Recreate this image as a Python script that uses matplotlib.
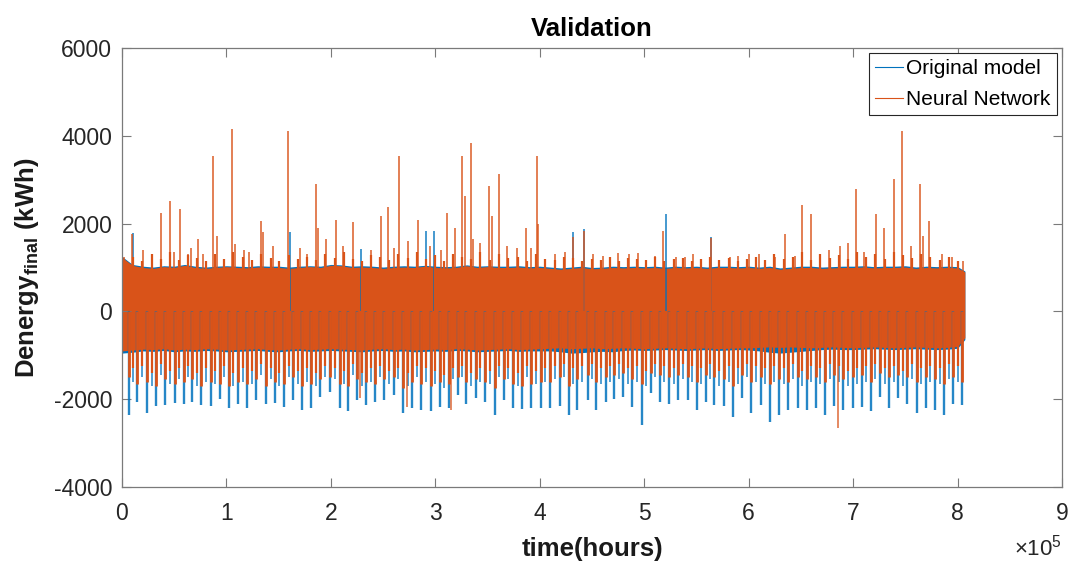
import numpy as np
import matplotlib
matplotlib.use("Agg")
import matplotlib.pyplot as plt
from matplotlib.lines import Line2D

plt.rcParams['font.family'] = ['Liberation Sans', 'DejaVu Sans']
plt.rcParams['mathtext.fontset'] = 'custom'
plt.rcParams['mathtext.rm'] = 'Liberation Sans'
plt.rcParams['mathtext.bf'] = 'Liberation Sans:bold'

# ---------------- data (x in units of 1e5 hours, y in kWh) ----------------
band_x = [0.0, 0.1, 0.2, 0.3, 0.4, 0.5, 0.6, 0.7, 0.8, 0.9,
          1.0, 1.1, 1.2, 1.3, 1.4, 1.5, 1.6, 1.7, 1.8, 1.9,
          2.0, 2.1, 2.2, 2.3, 2.4, 2.5, 2.6, 2.7, 2.8, 2.9,
          3.0, 3.1, 3.2, 3.3, 3.4, 3.5, 3.6, 3.7, 3.8, 3.9,
          4.0, 4.1, 4.2, 4.3, 4.4, 4.5, 4.6, 4.7, 4.8, 4.9,
          5.0, 5.1, 5.2, 5.3, 5.4, 5.5, 5.6, 5.7, 5.8, 5.9,
          6.0, 6.1, 6.2, 6.3, 6.4, 6.5, 6.6, 6.7, 6.8, 6.9,
          7.0, 7.1, 7.2, 7.3, 7.4, 7.5, 7.6, 7.7, 7.8, 7.9,
          8.0, 8.07]
nn_hi = [1230, 1050, 1000, 980, 1020, 1000, 1050, 1000, 980, 1000,
         1020, 1000, 990, 1010, 1000, 1000, 980, 1000, 1020, 1000,
         1050, 1040, 1000, 1010, 1000, 980, 1000, 1010, 1000, 1030,
         1000, 990, 1000, 1040, 1000, 1020, 1000, 1000, 1010, 990,
         1000, 980, 960, 980, 1000, 970, 980, 1000, 990, 1000,
         990, 1000, 980, 1000, 990, 1000, 980, 1000, 1000, 990,
         1000, 980, 1000, 960, 980, 1000, 1000, 980, 990, 1000,
         1000, 1010, 990, 1000, 1000, 1010, 980, 1000, 990, 1000,
         990, 900]
nn_lo = [-900, -880, -860, -870, -850, -880, -860, -870, -850, -860,
         -880, -870, -860, -850, -870, -880, -860, -850, -870, -860,
         -850, -860, -870, -880, -860, -850, -870, -860, -880, -870,
         -860, -870, -850, -860, -880, -870, -860, -850, -870, -860,
         -850, -840, -830, -850, -840, -830, -850, -840, -830, -840,
         -850, -840, -830, -840, -850, -840, -830, -850, -840, -830,
         -830, -820, -810, -820, -810, -820, -830, -820, -810, -820,
         -830, -820, -810, -820, -830, -820, -810, -820, -830, -820,
         -800, -600]
orig_hi = [1250, 1070, 1030, 1010, 1040, 1030, 1070, 1030, 1010, 1030,
           1040, 1030, 1020, 1040, 1030, 1030, 1010, 1030, 1040, 1030,
           1070, 1060, 1030, 1040, 1030, 1010, 1030, 1040, 1030, 1050,
           1030, 1020, 1030, 1060, 1030, 1040, 1030, 1030, 1040, 1020,
           1030, 1010, 990, 1010, 1030, 1000, 1010, 1030, 1020, 1030,
           1020, 1030, 1010, 1030, 1020, 1030, 1010, 1030, 1030, 1020,
           1030, 1010, 1030, 990, 1010, 1030, 1030, 1010, 1020, 1030,
           1030, 1040, 1020, 1030, 1030, 1040, 1010, 1030, 1020, 1030,
           1020, 920]
orig_lo = [-950, -930, -900, -910, -890, -920, -900, -910, -890, -900,
           -920, -910, -900, -890, -910, -920, -900, -890, -910, -900,
           -890, -900, -910, -920, -900, -890, -910, -900, -920, -910,
           -900, -910, -890, -900, -920, -910, -900, -890, -910, -900,
           -900, -900, -920, -950, -940, -920, -910, -920, -890, -880,
           -890, -880, -870, -880, -890, -880, -870, -890, -880, -870,
           -880, -900, -930, -950, -930, -910, -890, -870, -860, -870,
           -870, -860, -850, -860, -870, -860, -850, -860, -870, -860,
           -840, -640]

nn_up_x = [0.02, 0.1, 0.2, 0.37, 0.457, 0.5, 0.553, 0.635, 0.66, 0.73,
           0.78, 0.87, 0.907, 1.05, 1.085, 1.17, 1.22, 1.33, 1.353, 1.45,
           1.587, 1.7, 1.77, 1.86, 1.88, 1.95,
           2.05, 2.12, 2.21, 2.38, 2.48, 2.55, 2.6, 2.65, 2.74, 2.83,
           2.95, 3.05, 3.11, 3.19, 3.26, 3.28, 3.34, 3.36, 3.43, 3.51,
           3.54, 3.61, 3.69, 3.78, 3.87, 3.92, 3.97, 3.98,
           4.15, 4.24, 4.32, 4.42, 4.51, 4.61, 4.75, 4.85, 4.94, 5.1,
           5.18, 5.3, 5.39, 5.47, 5.64, 5.82, 5.9, 6.0,
           6.1, 6.25, 6.35, 6.44, 6.51, 6.6, 6.77, 6.87, 6.95, 7.03,
           7.1, 7.22, 7.3, 7.39, 7.47, 7.55, 7.64, 7.67, 7.73, 7.85,
           7.95, 8.05]
nn_up_y = [1230, 1760, 1400, 2250, 2520, 1350, 2340, 1310, 1450, 1650,
           1300, 3540, 1720, 4150, 1540, 1400, 1350, 2065, 1800, 1500,
           4120, 1450, 1300, 2900, 1910, 1660,
           2080, 1500, 2030, 1400, 2180, 2380, 1450, 3540, 1610, 2080,
           1500, 1400, 2250, 1910, 3540, 2630, 3840, 1650, 1550, 2860,
           2180, 3140, 1500, 1450, 1910, 1450, 3540, 2000,
           1310, 1350, 1700, 1830, 1310, 1270, 1320, 1310, 1320, 1270,
           1840, 1250, 1230, 1300, 1670, 1250, 1270, 1300,
           1300, 1250, 1760, 1270, 2430, 2230, 1400, 1480, 1550, 2780,
           1350, 2220, 1900, 3010, 4110, 1500, 2910, 1720, 2070, 1300,
           1250, 1150]

orig_up_x = [0.0, 0.105, 1.61, 2.29, 2.91, 2.99, 4.32, 4.42, 5.21, 5.64]
orig_up_y = [1250, 1780, 1800, 1420, 1840, 1840, 1800, 1880, 2220, 1690]

dn_x = [0.064, 0.147, 0.243, 0.329, 0.409, 0.505, 0.594, 0.67, 0.76, 0.85,
        0.936, 1.022, 1.111, 1.2, 1.286, 1.382, 1.462, 1.552, 1.638, 1.724,
        1.813, 1.9, 1.995,
        2.085, 2.165, 2.254, 2.34, 2.426, 2.51, 2.605, 2.69, 2.778, 2.867,
        2.957, 3.043, 3.129, 3.218, 3.298, 3.388, 3.474, 3.57, 3.656, 3.745,
        3.831, 3.92, 4.01,
        4.097, 4.193, 4.279, 4.361, 4.457, 4.543, 4.63, 4.713, 4.799, 4.885,
        4.974, 5.064, 5.15, 5.237, 5.326, 5.415, 5.501, 5.587, 5.67, 5.766,
        5.852, 5.939, 6.022,
        6.118, 6.204, 6.29, 6.379, 6.468, 6.555, 6.644, 6.731, 6.82, 6.906,
        6.995, 7.081, 7.171, 7.258, 7.344, 7.433, 7.519, 7.608, 7.695, 7.784,
        7.874, 7.96, 8.046]
orig_dn_y = [-2360, -2060, -2310, -2160, -2130, -2080, -2100, -2060, -2130, -2160,
             -2000, -2190, -2100, -2210, -2020, -2100, -2080, -2170, -2020, -2250,
             -2190, -1950, -1830,
             -2210, -2280, -2020, -2130, -2060, -2020, -1910, -2320, -2190, -2250,
             -2280, -2170, -2190, -1910, -2100, -1980, -2060, -2360, -2020, -2210,
             -2230, -2210, -2190,
             -2190, -2160, -2360, -2250, -2020, -2250, -2060, -2000, -1960, -2170,
             -2590, -1870, -2060, -2100, -2020, -2020, -2250, -2060, -2130, -2160,
             -2400, -1980, -2310,
             -2130, -2510, -2360, -2250, -2210, -2250, -2210, -2360, -2160, -2250,
             -2210, -2170, -2280, -1950, -2210, -1980, -2100, -2320, -2210, -2250,
             -2360, -2100, -2130]
nn_dn_y = [-1500, -1650, -1600, -1700, -1550, -1650, -1600, -1550, -1700, -1600,
           -1650, -1700, -1600, -1650, -1550, -1700, -1600, -1650, -1500, -1700,
           -1650, -1550, -1500,
           -1650, -1700, -1550, -1600, -1650, -1550, -1500, -1750, -1600, -1650,
           -1700, -1600, -1650, -1500, -1600, -1550, -1600, -1750, -1550, -1650,
           -1700, -1650, -1600,
           -1600, -1500, -1700, -1550, -1450, -1600, -1500, -1450, -1400, -1550,
           -1650, -1400, -1450, -1500, -1450, -1500, -1600, -1450, -1500, -1550,
           -1700, -1450, -1600,
           -1500, -1650, -1550, -1600, -1500, -1550, -1500, -1600, -1450, -1550,
           -1500, -1450, -1600, -1400, -1500, -1450, -1500, -1600, -1500, -1550,
           -1650, -1500, -1600]
nn_dn2_x = [2.28, 2.73, 3.15, 6.86]
nn_dn2_y = [-1980, -2170, -2250, -2660]

# secondary (smaller) excursions between the daily minima
mid_x = [0.105, 0.195, 0.286, 0.369, 0.457, 0.55, 0.632, 0.715, 0.805, 0.893,
         0.979, 1.066, 1.155, 1.243, 1.334, 1.422, 1.507, 1.595, 1.681, 1.768,
         1.856, 1.947, 2.04, 2.125, 2.21, 2.297, 2.383, 2.468, 2.557, 2.647,
         2.734, 2.822, 2.912, 3.0, 3.086, 3.173, 3.258, 3.343, 3.431, 3.522,
         3.613, 3.7, 3.788, 3.875, 3.965, 4.053, 4.145, 4.236, 4.32, 4.409,
         4.5, 4.586, 4.671, 4.756, 4.842, 4.93, 5.019, 5.107, 5.193, 5.281,
         5.37, 5.458, 5.544, 5.628, 5.718, 5.809, 5.895, 5.98, 6.07, 6.161,
         6.247, 6.334, 6.423, 6.511, 6.6, 6.687, 6.775, 6.863, 6.95, 7.038,
         7.126, 7.214, 7.301, 7.388, 7.476, 7.563, 7.651, 7.739, 7.829, 7.917,
         8.003]
nn_mid_up = [1250, 1150, 1300, 1200, 1350, 1180, 1280, 1220, 1150, 1300,
             1200, 1350, 1250, 1180, 1300, 1220, 1150, 1280, 1200, 1250,
             1180, 1300, 1220, 1350, 1200, 1150, 1280, 1250, 1180, 1300,
             1220, 1350, 1200, 1280, 1150, 1300, 1250, 1200, 1350, 1180,
             1300, 1220, 1250, 1150, 1300, 1200, 1180, 1250, 1220, 1150,
             1200, 1180, 1250, 1150, 1220, 1200, 1180, 1250, 1150, 1200,
             1220, 1150, 1200, 1250, 1180, 1220, 1150, 1200, 1250, 1180,
             1300, 1200, 1250, 1350, 1180, 1300, 1220, 1280, 1200, 1350,
             1250, 1300, 1200, 1350, 1280, 1220, 1300, 1250, 1180, 1250,
             1150]
nn_mid_dn = [-1300, -1250, -1400, -1200, -1350, -1300, -1250, -1400, -1300, -1350,
             -1250, -1400, -1300, -1350, -1200, -1300, -1400, -1250, -1350, -1300,
             -1400, -1250, -1300, -1350, -1200, -1400, -1300, -1250, -1350, -1300,
             -1400, -1250, -1300, -1350, -1450, -1300, -1250, -1400, -1300, -1350,
             -1250, -1300, -1400, -1250, -1350, -1300, -1250, -1200, -1300, -1250,
             -1200, -1300, -1250, -1200, -1300, -1250, -1350, -1200, -1250, -1300,
             -1200, -1250, -1300, -1200, -1350, -1250, -1300, -1200, -1250, -1300,
             -1250, -1300, -1200, -1350, -1250, -1300, -1200, -1250, -1350, -1300,
             -1250, -1200, -1300, -1250, -1350, -1200, -1300, -1250, -1300, -1200,
             -1250]
orig_mid_dn = [-1600, -1500, -1700, -1450, -1650, -1550, -1500, -1700, -1600, -1650,
               -1500, -1700, -1600, -1650, -1450, -1550, -1700, -1500, -1650, -1600,
               -1700, -1500, -1550, -1650, -1450, -1700, -1600, -1500, -1650, -1550,
               -1700, -1500, -1600, -1650, -1750, -1550, -1500, -1700, -1600, -1650,
               -1500, -1550, -1700, -1500, -1650, -1600, -1550, -1500, -1650, -1600,
               -1550, -1650, -1600, -1550, -1650, -1600, -1700, -1500, -1600, -1650,
               -1550, -1600, -1650, -1550, -1700, -1600, -1650, -1500, -1600, -1650,
               -1600, -1650, -1550, -1700, -1600, -1650, -1550, -1600, -1700, -1650,
               -1600, -1550, -1650, -1600, -1700, -1550, -1650, -1600, -1650, -1550,
               -1600]

SCALE = 1e5
BLUE = '#0072BD'
ORANGE = '#D95319'

fig = plt.figure(figsize=(10.69, 5.65), dpi=100)
ax = fig.add_axes([122/1069, 1-487/565, 940/1069, 439/565])

bx = np.array(band_x) * SCALE
dx = np.array(dn_x) * SCALE
mx = np.array(mid_x) * SCALE
# Original model
ax.fill_between(bx, orig_lo, orig_hi, color=BLUE, lw=0)
ax.vlines(dx, 0, orig_dn_y, color=BLUE, lw=1.7, alpha=0.85)
ax.vlines(mx, 0, orig_mid_dn, color=BLUE, lw=1.2, alpha=0.8)
ax.vlines(np.array(orig_up_x) * SCALE, 0, orig_up_y, color=BLUE, lw=1.2, alpha=0.85)
# Neural network
ax.fill_between(bx, nn_lo, nn_hi, color=ORANGE, lw=0)
ax.vlines(mx, nn_mid_dn, nn_mid_up, color=ORANGE, lw=1.6)
ax.vlines(np.array(nn_up_x) * SCALE, 0, nn_up_y, color=ORANGE, lw=1.3, alpha=0.8)
ax.vlines(dx, 0, nn_dn_y, color=ORANGE, lw=2.0)
ax.vlines(np.array(nn_dn2_x) * SCALE, 0, nn_dn2_y, color=ORANGE, lw=1.2, alpha=0.8)

ax.set_xlim(0, 9e5)
ax.set_ylim(-4000, 6000)
ax.set_xticks(np.arange(0, 10) * 1e5)
ax.set_xticklabels([str(i) for i in range(10)])
ax.set_yticks([-4000, -2000, 0, 2000, 4000, 6000])
ax.set_yticklabels(['-4000', '-2000', '0', '2000', '4000', '6000'])

for s in ax.spines.values():
    s.set_color('#7a7a7a')
    s.set_linewidth(0.9)
ax.tick_params(direction='in', length=6.5, width=0.8, color='#7a7a7a',
               labelsize=16.5, labelcolor='#262626', top=True, right=True)
ax.tick_params(axis='x', pad=10.5)
ax.tick_params(axis='y', pad=7)

ax.set_title('Validation', fontsize=18.5, fontweight='bold', pad=9)
ax.set_xlabel('time(hours)', fontsize=18.5, fontweight='bold', color='#1a1a1a')
ax.xaxis.set_label_coords(0.5, -0.115)
ax.set_ylabel(r'Denergy$_{\mathbf{final}}$ (kWh)', fontsize=18.5, fontweight='bold',
              color='#1a1a1a')
ax.yaxis.set_label_coords(-0.086, 0.5)

fig.text(1062/1069, 1-548/565, r'$\times10^{5}$', fontsize=16, color='#262626',
         ha='right', va='center')

handles = [Line2D([], [], color=BLUE, lw=0.8), Line2D([], [], color=ORANGE, lw=0.8)]
leg = ax.legend(handles, ['Original model', 'Neural Network'], loc='upper right',
                fontsize=15, frameon=True, fancybox=False, framealpha=1,
                edgecolor='#262626', handlelength=1.35, handletextpad=0.15,
                borderaxespad=0.25, borderpad=0.3, labelspacing=0.55)
leg.get_frame().set_linewidth(0.8)

fig.savefig('out.png', dpi=100)
